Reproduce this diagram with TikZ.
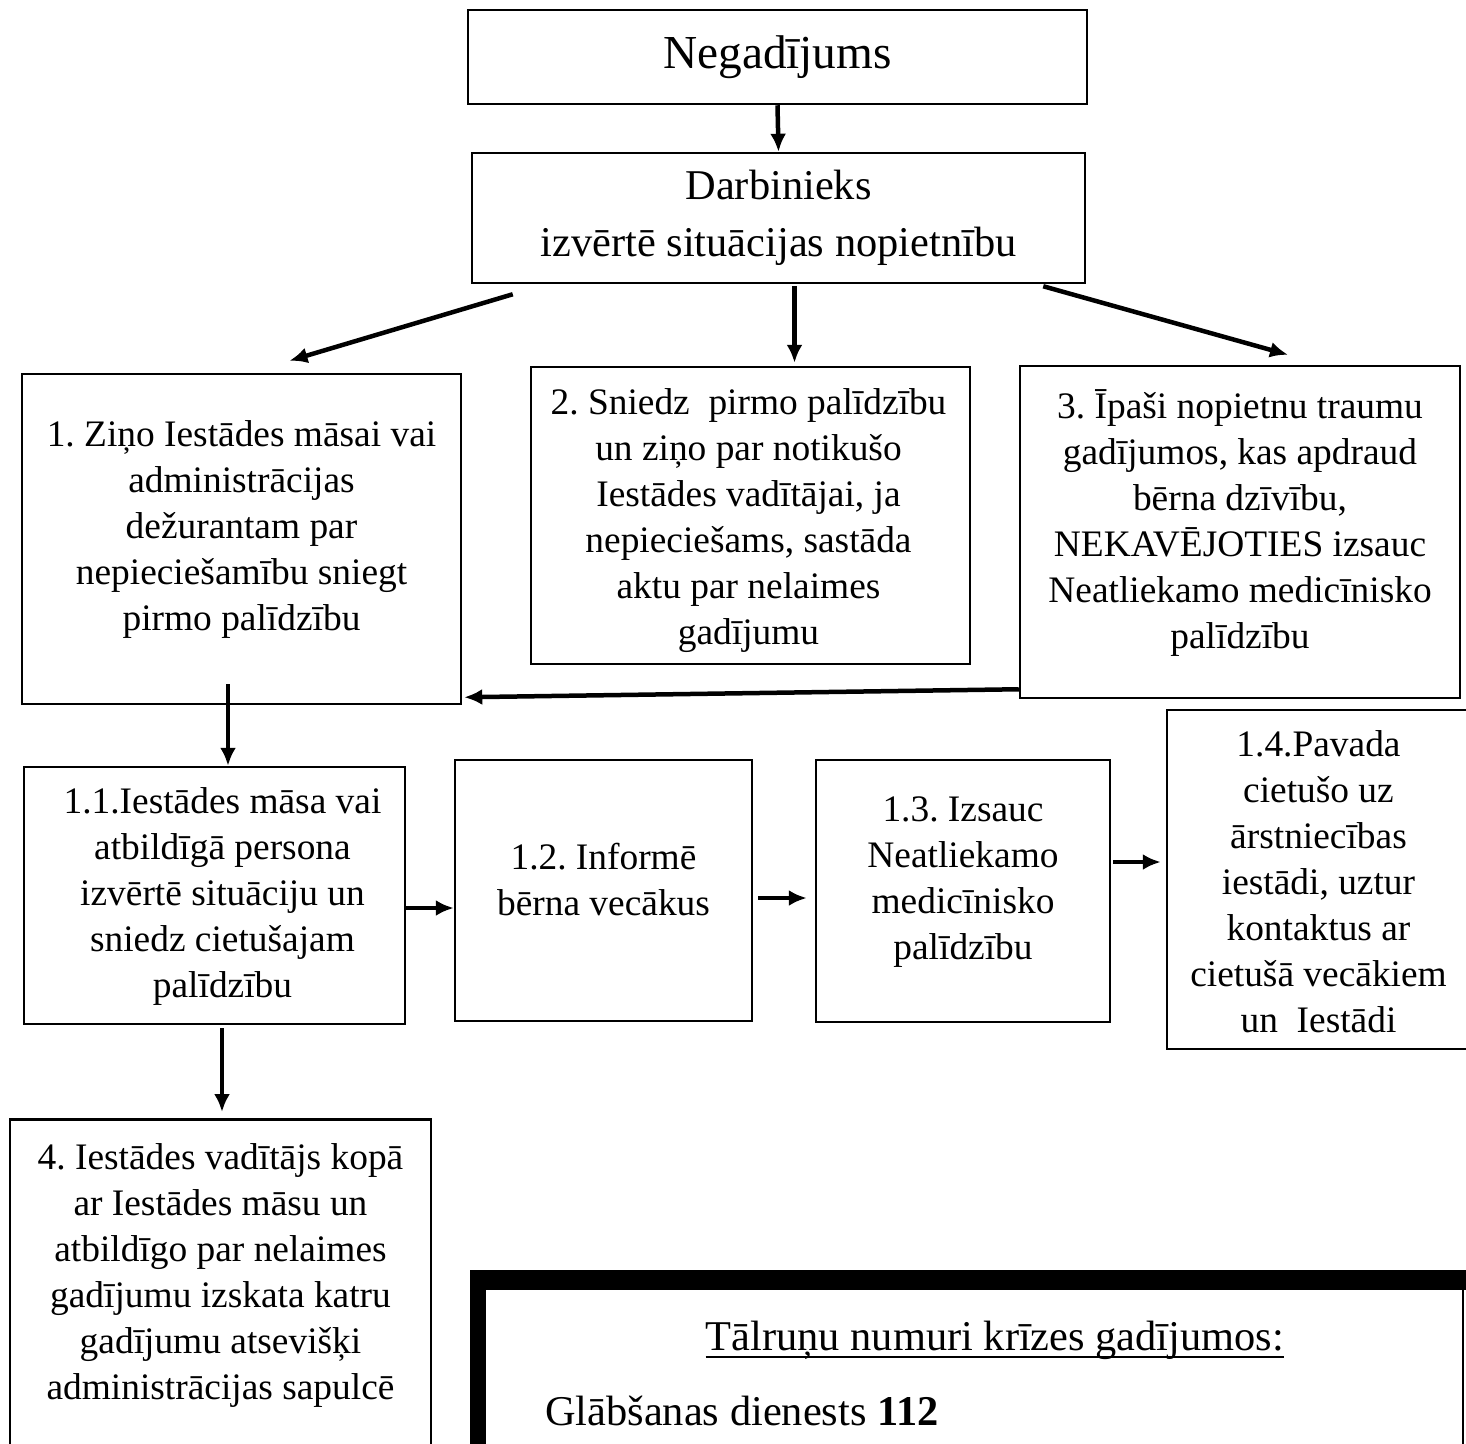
\documentclass[tikz,border=0pt]{standalone}
\usepackage{fontspec}
\setmainfont{Liberation Serif}
\frenchspacing
\usetikzlibrary{arrows.meta}
\usetikzlibrary{calc}

\begin{document}
\begin{tikzpicture}[x = 1pt, y = -1pt]
\tikzstyle{BoxStyle}=[draw, line width = 2.5pt,
                      inner sep = 0pt]
\tikzstyle{TextStyle}=[align = center,
                       inner sep = 0pt,
                       font = \fontsize{37.4}{46}\selectfont]
\tikzstyle{HeadStyle}=[BoxStyle, align = center, font = \fontsize{42.4}{57}\selectfont]
\tikzstyle{PhoneStyle}=[inner sep = 0pt, font = \fontsize{42.4}{50}\selectfont]
\tikzstyle{ArrowStyle}=[line width = 4.5pt, -{Latex[length = 18pt, width = 16pt]}]
\useasboundingbox (0, 0) rectangle (1466, 1443);
\clip (0, 0) rectangle (1466, 1443);
\node[HeadStyle, minimum width = 619pt, minimum height = 94pt, font = \fontsize{47.3}{57}\selectfont] (n0) at (777.5, 57) {Negadījums};
\node[HeadStyle, minimum width = 613pt, minimum height = 130pt] (n1) at (778.5, 218) {Darbinieks\\izvērtē situācijas nopietnību};
\node[BoxStyle, minimum width = 439pt, minimum height = 330pt] (s1) at (241.5, 539) {};
\node[BoxStyle, minimum width = 439pt, minimum height = 297pt] (s2) at (750.5, 515.5) {};
\node[BoxStyle, minimum width = 440pt, minimum height = 332pt] (s3) at (1240, 532) {};
\node[BoxStyle, minimum width = 381pt, minimum height = 257pt] (s11) at (214.5, 895.5) {};
\node[BoxStyle, minimum width = 297pt, minimum height = 261pt] (s12) at (603.5, 890.5) {};
\node[BoxStyle, minimum width = 294pt, minimum height = 262pt] (s13) at (963, 891) {};
\node[BoxStyle, minimum width = 303pt, minimum height = 339pt] (s14) at (1318.5, 879.5) {};
\node[BoxStyle, minimum width = 421pt, minimum height = 400pt, anchor = north] (s4) at (220.5, 1118) {};
\node[TextStyle] (t1) at ($(s1) + (0, -10)$) {1. Ziņo Iestādes māsai vai\\administrācijas\\dežurantam par\\nepieciešamību sniegt\\pirmo palīdzību};
\node[TextStyle] (t2) at ($(s2) + (-2, 5)$) {2. Sniedz\ \ pirmo palīdzību\\un ziņo par notikušo\\Iestādes vadītājai, ja\\nepieciešams, sastāda\\aktu par nelaimes\\gadījumu};
\node[TextStyle] (t3) at ($(s3) + (0, -9)$) {3. Īpaši nopietnu traumu\\gadījumos, kas apdraud\\bērna dzīvību,\\NEKAVĒJOTIES izsauc\\Neatliekamo medicīnisko\\palīdzību};
\node[TextStyle] (t11) at ($(s11) + (8, 1)$) {1.1.Iestādes māsa vai\\atbildīgā persona\\izvērtē situāciju un\\sniedz cietušajam\\palīdzību};
\node[TextStyle] (t12) at ($(s12) + (0, -11)$) {1.2. Informē\\bērna vecākus};
\node[TextStyle] (t13) at ($(s13) + (0, -9)$) {1.3. Izsauc\\Neatliekamo\\medicīnisko\\palīdzību};
\node[TextStyle] (t14) at ($(s14) + (0, 2)$) {1.4.Pavada\\cietušo uz\\ārstniecības\\iestādi, uztur\\kontaktus ar\\cietušā vecākiem\\un\ \ Iestādi};
\node[TextStyle] (t4) at ($(s4.north) + (0, 157)$) {4. Iestādes vadītājs kopā\\ar Iestādes māsu un\\atbildīgo par nelaimes\\gadījumu izskata katru\\gadījumu atsevišķi\\administrācijas sapulcē};
\draw[line width = 16pt] (478, 1271) -- (478, 1500);
\draw[line width = 20pt] (470, 1280) -- (1500, 1280);
\draw[line width = 2.5pt] (1463, 1290) -- (1463, 1500);
\node[PhoneStyle] (p0) at (995, 1340) {Tālruņu numuri krīzes gadījumos:};
\draw[line width = 2.5pt] ($(p0.base west) + (0, 7)$) -- ($(p0.base east) + (0, 7)$);
\node[PhoneStyle, anchor = base west] (p1) at (545, 1425) {Glābšanas dienests \textbf{112}};
\draw[ArrowStyle] (n0.south) -- (n1.north);
\draw[ArrowStyle] ($(n1.south west) + (42, 10)$) -- ($(s1.north) + (48, -12)$);
\draw[ArrowStyle] ($(n1.south) + (16, 2)$) -- ($(s2.north) + (44, -3)$);
\draw[ArrowStyle] ($(n1.south east) + (-43, 2)$) -- ($(s3.north) + (48, -10)$);
\draw[ArrowStyle] ($(s3.south west) + (0, -10)$) -- ($(s1.south east) + (2, -8)$);
\draw[ArrowStyle] ($(s1.south) + (-13.5, -21)$) -- ($(s11.north) + (13.5, 0)$);
\draw[ArrowStyle] ($(s11.east) + (0, 12.5)$) -- ($(s12.west) + (0, 17.5)$);
\draw[ArrowStyle] ($(s12.east) + (5, 7.5)$) -- ($(s13.west) + (-8, 7)$);
\draw[ArrowStyle] ($(s13.east) + (2, -29)$) -- ($(s14.west) + (-5, -17.5)$);
\draw[ArrowStyle] ($(s11.south) + (7.5, 3)$) -- ($(s4.north) + (1.5, -6)$);
\end{tikzpicture}
\end{document}
